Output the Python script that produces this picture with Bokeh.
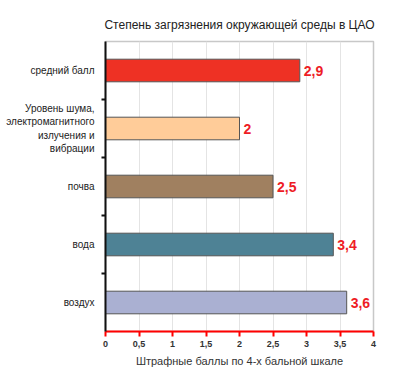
from bokeh.plotting import figure
from bokeh.models import ColumnDataSource, FixedTicker, Range1d, LabelSet, Title
from bokeh.core.properties import value
from bokeh.embed import file_html
from bokeh.resources import INLINE

categories = ["воздух", "вода", "почва", "Уровень шума,\nэлектромагнитного\nизлучения и\nвибрации", "средний балл"]
values = [3.6, 3.4, 2.5, 2.0, 2.9]
labels = ["3,6", "3,4", "2,5", "2", "2,9"]
colors = ["#AAB0D2", "#4E8295", "#A08060", "#FFCC99", "#EE3124"]
x_ticks = [0, 0.5, 1, 1.5, 2, 2.5, 3, 3.5, 4]
x_tick_labels = ["0", "0,5", "1", "1,5", "2", "2,5", "3", "3,5", "4"]

ypos = [i + 0.5 for i in range(len(categories))]
src = ColumnDataSource(dict(y=ypos, v=values, lab=labels, c=colors))

p = figure(width=379, height=369, output_backend="svg", toolbar_location=None,
           x_range=Range1d(0, 4), y_range=Range1d(0, len(categories)),
           min_border_left=105, min_border_right=6, min_border_top=41, min_border_bottom=30)

p.title = Title(text="Степень загрязнения окружающей среды в ЦАО", align="center",
                text_font="Liberation Sans", text_font_size="12px", text_font_style="normal",
                text_color="#222222", standoff=19)

p.hbar(y="y", right="v", left=0, height=0.39, fill_color="c", line_color="#555555",
       line_width=1, source=src)

p.add_layout(LabelSet(x="v", y="y", text="lab", source=src, x_offset=4, y_offset=0,
                      text_baseline="middle", text_color="#EE1C25",
                      text_font=value("Liberation Sans"),
                      text_font_size="14px", text_font_style="bold"))

p.xgrid.ticker = FixedTicker(ticks=x_ticks)
p.xgrid.grid_line_color = "#E4E4E4"
p.ygrid.grid_line_color = None

p.xaxis.ticker = FixedTicker(ticks=x_ticks)
p.xaxis.major_label_overrides = {t: l for t, l in zip(x_ticks, x_tick_labels)}
p.xaxis.axis_line_color = "#FF0000"
p.xaxis.axis_line_width = 2
p.xaxis.major_tick_line_color = "#FF0000"
p.xaxis.major_tick_line_width = 2
p.xaxis.major_tick_out = 5
p.xaxis.major_tick_in = 0
p.xaxis.minor_tick_line_color = None
p.xaxis.major_label_text_font = "Liberation Sans"
p.xaxis.major_label_text_font_size = "9px"
p.xaxis.major_label_text_font_style = "bold"
p.xaxis.major_label_text_color = "#333333"
p.xaxis.major_label_standoff = 4
p.xaxis.axis_label = "Штрафные баллы по 4-х бальной шкале"
p.xaxis.axis_label_text_font = "Liberation Sans"
p.xaxis.axis_label_text_font_size = "11px"
p.xaxis.axis_label_text_font_style = "normal"
p.xaxis.axis_label_text_color = "#333333"
p.xaxis.axis_label_standoff = 5

p.yaxis.ticker = FixedTicker(ticks=ypos, minor_ticks=list(range(1, len(categories))))
p.yaxis.major_label_overrides = {y: c for y, c in zip(ypos, categories)}
p.yaxis.axis_line_color = "#111111"
p.yaxis.axis_line_width = 2
p.yaxis.major_tick_line_color = None
p.yaxis.minor_tick_line_color = "#111111"
p.yaxis.minor_tick_line_width = 2
p.yaxis.minor_tick_out = 4
p.yaxis.minor_tick_in = 0
p.yaxis.major_label_text_font = "Liberation Sans"
p.yaxis.major_label_text_font_size = "10px"
p.yaxis.major_label_text_color = "#222222"
p.yaxis.major_label_text_align = "center"
p.yaxis.major_label_standoff = 5

p.outline_line_color = "#C8C8C8"
p.outline_line_width = 1.5
p.background_fill_color = "white"
p.border_fill_color = "white"

open("out.html", "w").write(file_html(p, INLINE))
